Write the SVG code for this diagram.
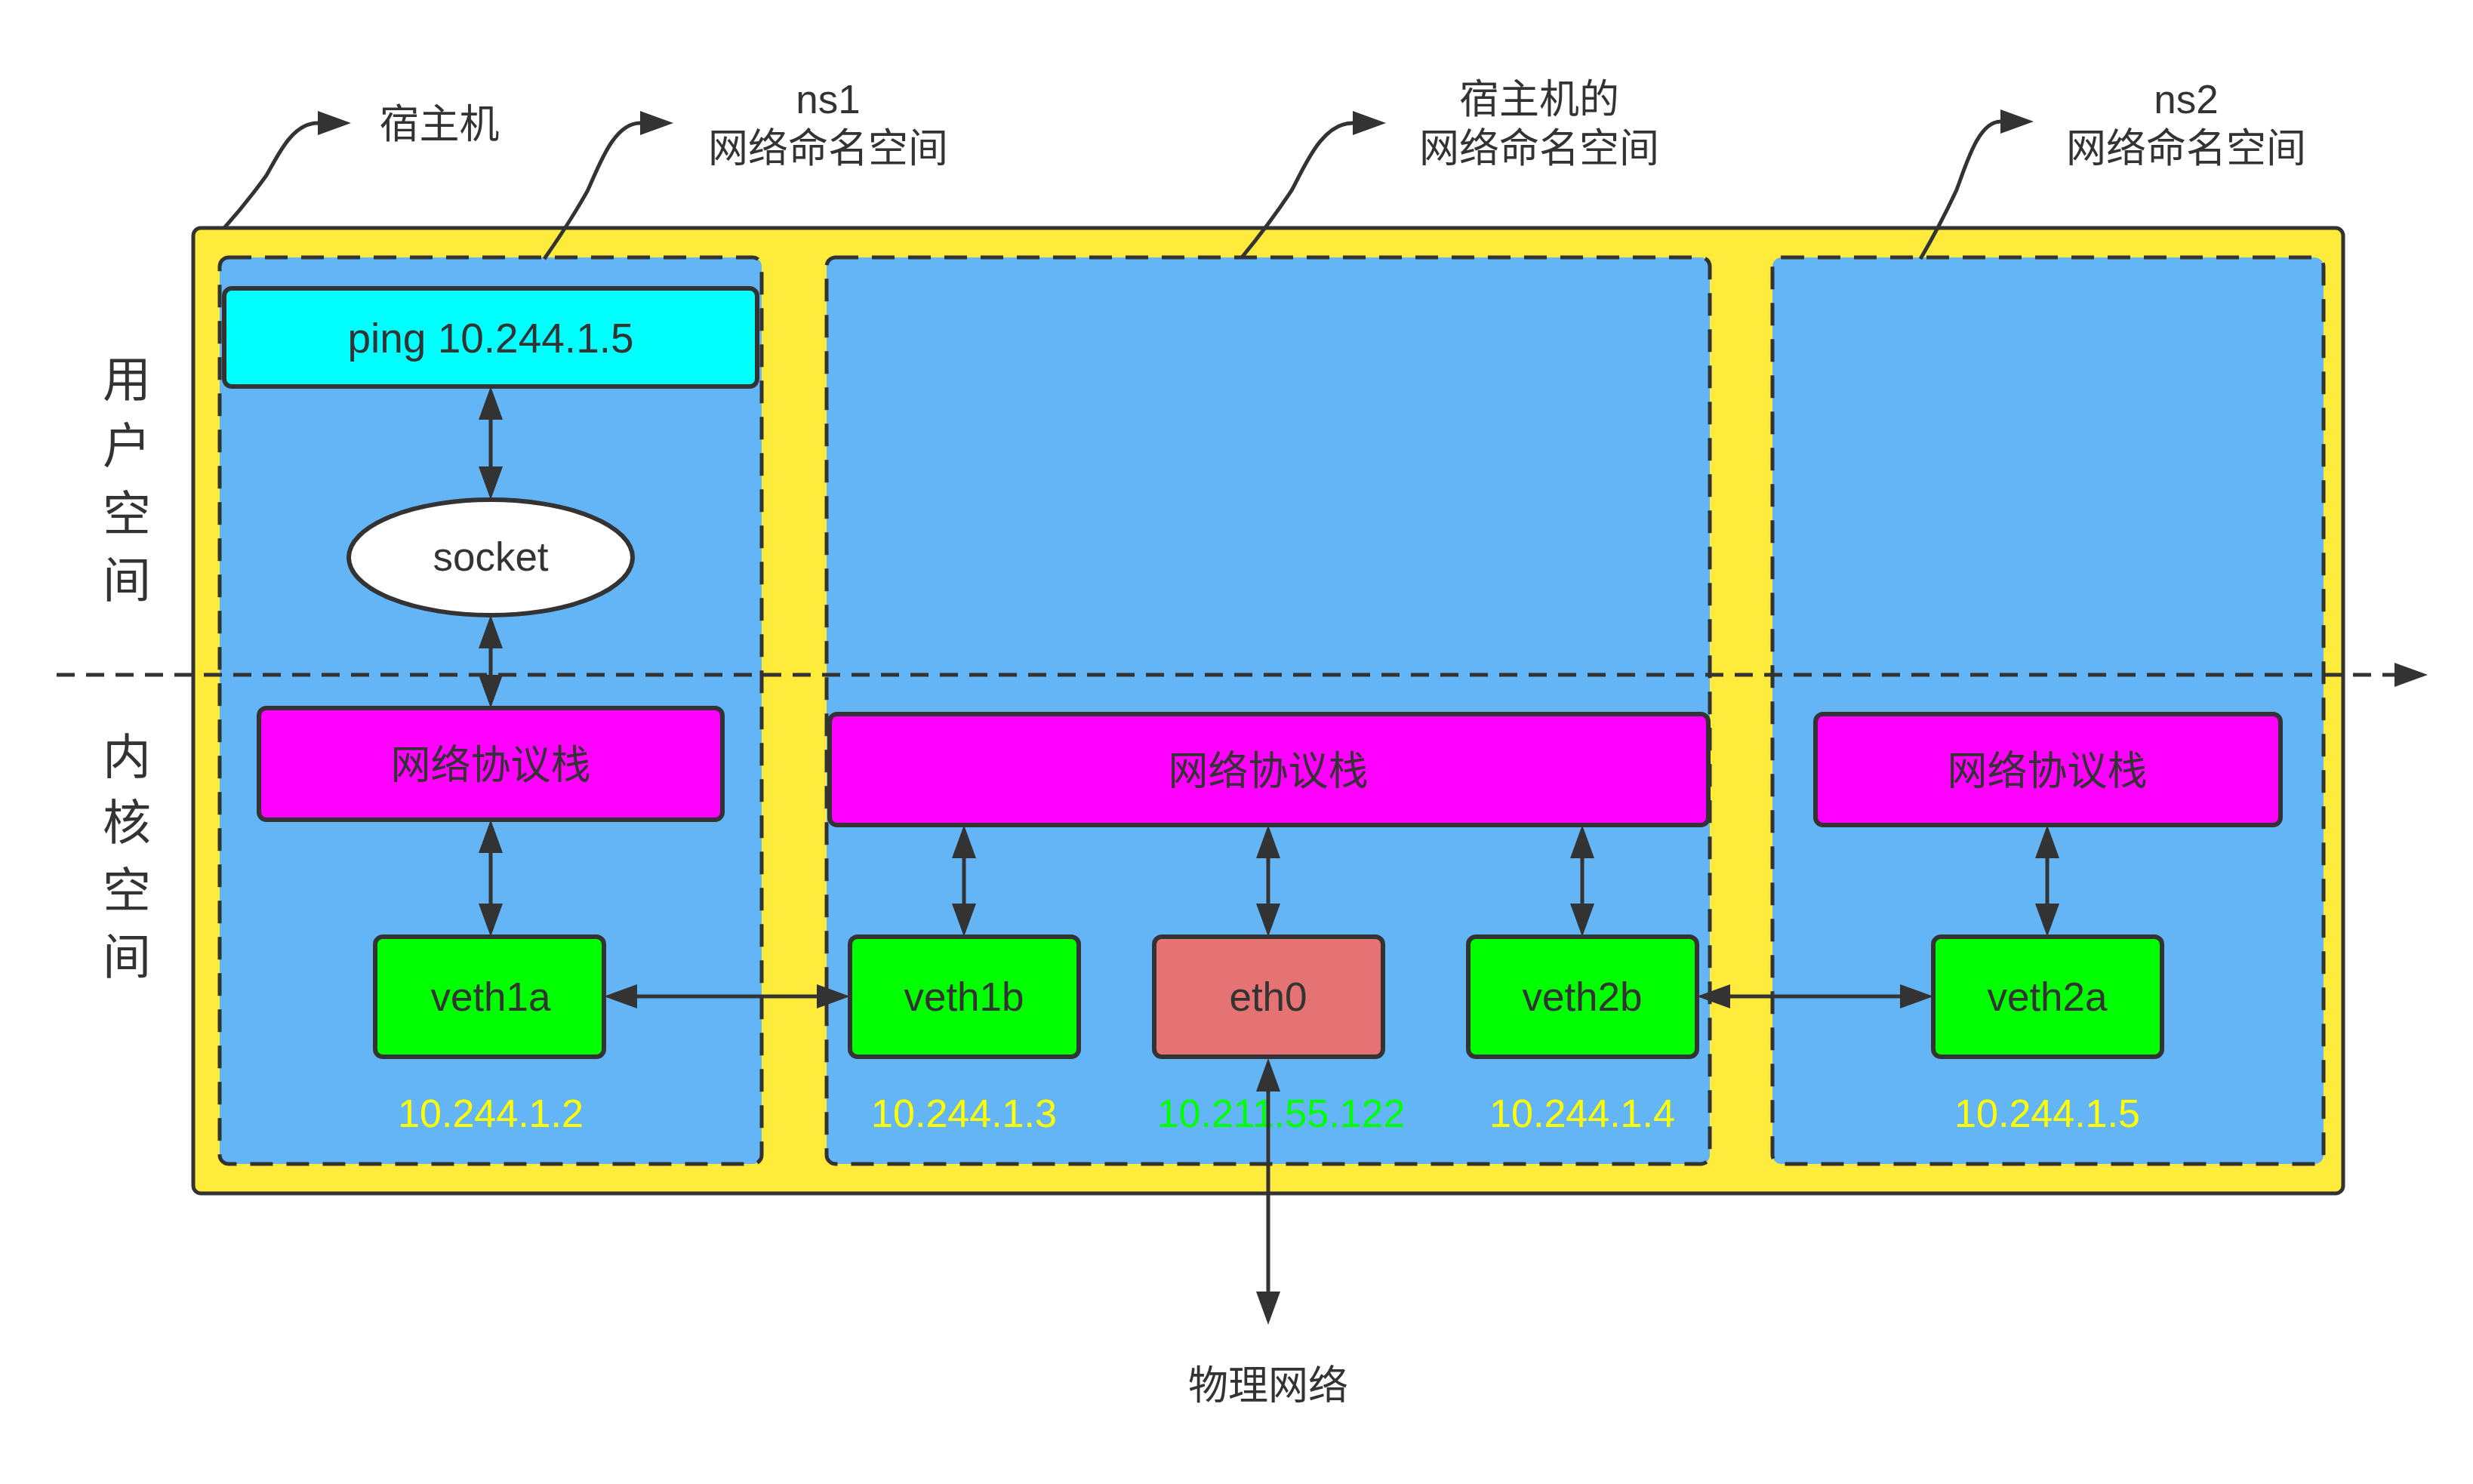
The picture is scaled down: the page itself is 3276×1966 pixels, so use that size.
<svg xmlns="http://www.w3.org/2000/svg" width="3276" height="1966" viewBox="0 0 3276 1966">
<style>
.t{font-family:"Liberation Sans",Arial,"Noto Sans CJK SC",sans-serif;font-size:53px;fill:#333333;text-anchor:middle}
.v{font-family:"Noto Sans CJK SC",sans-serif;font-size:64px;fill:#333333;text-anchor:middle}
.ip{font-family:"Liberation Sans",Arial,sans-serif;font-size:52px;fill:#FFFF00;text-anchor:middle}
.box{stroke:#333333;stroke-width:6}
.ns{fill:#64B5F6;stroke:#333333;stroke-width:5;stroke-dasharray:30 18}
.c{fill:none;stroke:#333333;stroke-width:5}
</style>
<defs>
<marker id="ah" markerUnits="userSpaceOnUse" markerWidth="44" markerHeight="32" viewBox="0 0 44 32" refX="0" refY="16" orient="auto-start-reverse">
<path d="M0 0 L44 16 L0 32 Z" fill="#333333"/>
</marker>
</defs>
<rect width="3276" height="1966" fill="#FFFFFF"/>
<g id="host">
<rect x="256" y="302" width="2848" height="1279" rx="10" fill="#FFEB3B" stroke="#333333" stroke-width="5"/>
</g>
<g id="ns1">
<rect class="ns" x="291" y="341" width="718" height="1201" rx="12"/>
</g>
<g id="hostns">
<rect class="ns" x="1095" y="341" width="1170" height="1201" rx="12"/>
</g>
<g id="ns2">
<rect class="ns" x="2348" y="341" width="730" height="1201" rx="12"/>
</g>
<g id="labels">
<text class="t" x="582" y="183">宿主机</text>
<text class="t" x="1097" y="150">ns1</text>
<text class="t" x="1097" y="215">网络命名空间</text>
<text class="t" x="2039" y="150">宿主机的</text>
<text class="t" x="2039" y="215">网络命名空间</text>
<text class="t" x="2896" y="150">ns2</text>
<text class="t" x="2896" y="215">网络命名空间</text>
<text class="v" x="168" y="525">用</text>
<text class="v" x="168" y="613">户</text>
<text class="v" x="168" y="703">空</text>
<text class="v" x="168" y="791">间</text>
<text class="v" x="168" y="1025">内</text>
<text class="v" x="168" y="1112">核</text>
<text class="v" x="168" y="1202">空</text>
<text class="v" x="168" y="1290">间</text>
<text class="t" x="1680" y="1854">物理网络</text>
</g>
<g id="divider">
<path d="M75 894 L3172 894" fill="none" stroke="#333333" stroke-width="5" stroke-dasharray="24 15" marker-end="url(#ah)"/>
</g>
<g id="ping">
<rect class="box" x="297" y="382" width="706" height="130" rx="10" fill="#00FFFF"/>
<text class="t" x="650" y="467" style="font-size:55px">ping 10.244.1.5</text>
</g>
<g id="socket">
<ellipse class="box" cx="650" cy="738.5" rx="188" ry="76.5" fill="#FFFFFF"/>
<text class="t" x="650" y="756">socket</text>
</g>
<g id="stack1">
<rect class="box" x="343" y="938" width="614" height="148" rx="10" fill="#FF00FF"/>
<text class="t" x="650" y="1032">网络协议栈</text>
</g>
<g id="stackhost">
<rect class="box" x="1099" y="946" width="1164" height="147" rx="10" fill="#FF00FF"/>
<text class="t" x="1680" y="1040">网络协议栈</text>
</g>
<g id="stack2">
<rect class="box" x="2405" y="946" width="616" height="147" rx="10" fill="#FF00FF"/>
<text class="t" x="2712" y="1040">网络协议栈</text>
</g>
<g id="veth1a">
<rect class="box" x="497" y="1241" width="303" height="159" rx="10" fill="#00FF00"/>
<text class="t" x="650" y="1339">veth1a</text>
<text class="ip" x="650" y="1493">10.244.1.2</text>
</g>
<g id="veth1b">
<rect class="box" x="1126" y="1241" width="303" height="159" rx="10" fill="#00FF00"/>
<text class="t" x="1277" y="1339">veth1b</text>
<text class="ip" x="1277" y="1493">10.244.1.3</text>
</g>
<g id="eth0">
<rect class="box" x="1529" y="1241" width="303" height="159" rx="10" fill="#E57373"/>
<text class="t" x="1680" y="1339">eth0</text>
<text class="ip" x="1697" y="1493" style="fill:#00FF00">10.211.55.122</text>
</g>
<g id="veth2b">
<rect class="box" x="1945" y="1241" width="303" height="159" rx="10" fill="#00FF00"/>
<text class="t" x="2096" y="1339">veth2b</text>
<text class="ip" x="2096" y="1493">10.244.1.4</text>
</g>
<g id="veth2a">
<rect class="box" x="2561" y="1241" width="303" height="159" rx="10" fill="#00FF00"/>
<text class="t" x="2712" y="1339">veth2a</text>
<text class="ip" x="2712" y="1493">10.244.1.5</text>
</g>
<g id="connectors">
<path class="c" d="M650 556 L650 618" marker-start="url(#ah)" marker-end="url(#ah)"/>
<path class="c" d="M650 859 L650 894" marker-start="url(#ah)" marker-end="url(#ah)"/>
<path class="c" d="M650 1130 L650 1197" marker-start="url(#ah)" marker-end="url(#ah)"/>
<path class="c" d="M1277 1137 L1277 1197" marker-start="url(#ah)" marker-end="url(#ah)"/>
<path class="c" d="M1680 1137 L1680 1197" marker-start="url(#ah)" marker-end="url(#ah)"/>
<path class="c" d="M2096 1137 L2096 1197" marker-start="url(#ah)" marker-end="url(#ah)"/>
<path class="c" d="M2712 1137 L2712 1197" marker-start="url(#ah)" marker-end="url(#ah)"/>
<path class="c" d="M1680 1446 L1680 1711" marker-start="url(#ah)" marker-end="url(#ah)"/>
<path class="c" d="M844 1320 L1082 1320" marker-start="url(#ah)" marker-end="url(#ah)"/>
<path class="c" d="M2292 1320 L2517 1320" marker-start="url(#ah)" marker-end="url(#ah)"/>
<path class="c" d="M297 302 C315.6 281.1 337.9 253.3 352.8 232.5 C367.7 207.5 386.3 163 421 163" marker-end="url(#ah)"/>
<path class="c" d="M721 343 C740 316 762.9 280 778.2 253 C793.4 220.6 812.4 163 848 163" marker-end="url(#ah)"/>
<path class="c" d="M1645 341 C1667 314.3 1693.5 278.7 1711.2 252 C1728.8 220 1750.8 163 1792 163" marker-end="url(#ah)"/>
<path class="c" d="M2544 343 C2559.9 315.7 2579 279.3 2591.7 252 C2604.4 219.2 2620.3 161 2650 161" marker-end="url(#ah)"/>
</g>
</svg>
